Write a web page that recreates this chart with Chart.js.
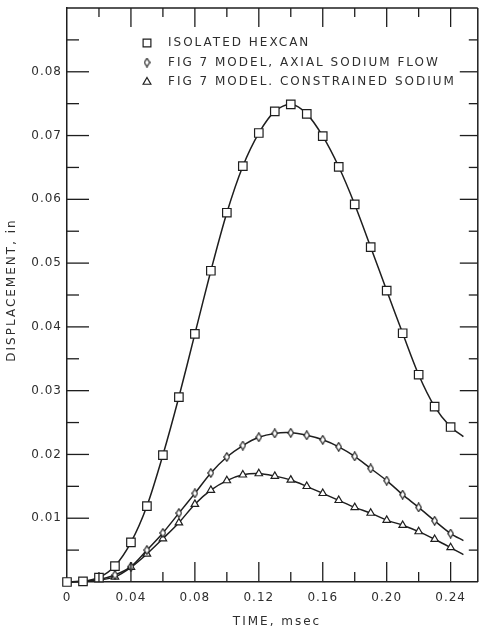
<!DOCTYPE html>
<html>
<head>
<meta charset="utf-8">
<title>Displacement vs time</title>
<script src="https://cdn.jsdelivr.net/npm/chart.js@4/dist/chart.umd.min.js"></script>
<style>
  html, body { margin: 0; padding: 0; background: #fff; overflow: hidden; }
  #wrap { width: 485px; height: 633px; }
</style>
</head>
<body>
<div id="wrap"><canvas id="chart" width="485" height="633"></canvas></div>
<script>
// Time, msec. The last entry is only where the drawn curve ends (no marker there).
const timeMs = [0, 0.01, 0.02, 0.03, 0.04, 0.05, 0.06, 0.07, 0.08, 0.09, 0.10, 0.11, 0.12,
  0.13, 0.14, 0.15, 0.16, 0.17, 0.18, 0.19, 0.20, 0.21, 0.22, 0.23, 0.24, 0.248];

// Displacement, in
const isolatedHexcan = [0, 0.0001, 0.0007, 0.0025, 0.0062, 0.0119, 0.0199, 0.0290, 0.0389,
  0.0488, 0.0579, 0.0652, 0.0704, 0.0738, 0.0749, 0.0734, 0.0699, 0.0651, 0.0592, 0.0525,
  0.0457, 0.0390, 0.0325, 0.0275, 0.0243, 0.0228];
const axialSodiumFlow = [0, 0.0001, 0.0004, 0.0011, 0.0024, 0.0050, 0.0077, 0.0108, 0.0139,
  0.0171, 0.0196, 0.0214, 0.0227, 0.0233, 0.0234, 0.0230, 0.0223, 0.0212, 0.0197, 0.0178,
  0.0159, 0.0137, 0.0117, 0.0096, 0.0076, 0.0065];
const constrainedSodium = [0, 0.0001, 0.0003, 0.0008, 0.0023, 0.0044, 0.0068, 0.0093, 0.0122,
  0.0144, 0.0159, 0.0168, 0.0170, 0.0166, 0.0160, 0.0150, 0.0139, 0.0128, 0.0117, 0.0108,
  0.0097, 0.0089, 0.0079, 0.0067, 0.0054, 0.0043];

const xTickValues = [0, 0.04, 0.08, 0.12, 0.16, 0.20, 0.24];
const xTickLabels = ["0", "0.04", "0.08", "0.12", "0.16", "0.20", "0.24"];
const yTickValues = [0.01, 0.02, 0.03, 0.04, 0.05, 0.06, 0.07, 0.08];
const yTickLabels = ["0.01", "0.02", "0.03", "0.04", "0.05", "0.06", "0.07", "0.08"];

const seriesLabels = ["ISOLATED HEXCAN", "FIG 7 MODEL, AXIAL SODIUM FLOW", "FIG 7 MODEL. CONSTRAINED SODIUM"];
const xTitle = "TIME, msec";
const yTitle = "DISPLACEMENT, in";

const ink = "#1e1e1e";
const textInk = "#2e2e2e";
const fontFamily = "'DejaVu Sans', sans-serif";

// narrow open diamond used as point style
const diamond = document.createElement("canvas");
diamond.width = 7;
diamond.height = 10;
(function () {
  const c = diamond.getContext("2d");
  c.beginPath();
  c.moveTo(3.5, 0.8);
  c.lineTo(6.2, 5);
  c.lineTo(3.5, 9.2);
  c.lineTo(0.8, 5);
  c.closePath();
  c.fillStyle = "#fff";
  c.fill();
  c.strokeStyle = "#1e1e1e";
  c.lineWidth = 1.2;
  c.stroke();
})();

function points(values) {
  return values.map((v, i) => ({ x: timeMs[i], y: v }));
}

// markers every 0.01 msec; none on the curve's end point
function markerRadius(size, firstIndex) {
  return ctx => (ctx.dataIndex < firstIndex || ctx.dataIndex >= timeMs.length - 1) ? 0 : size;
}

const seriesStyles = [
  { pointStyle: "rect", radius: 6 },
  { pointStyle: diamond, radius: 5 },
  { pointStyle: "triangle", radius: 4.3 }
];

function line(ctx, x1, y1, x2, y2) {
  ctx.beginPath();
  ctx.moveTo(x1, y1);
  ctx.lineTo(x2, y2);
  ctx.stroke();
}

// frame (top/right) with inward ticks on all four sides, legend and axis titles
const frameAndText = {
  id: "frameAndText",
  beforeDraw(chart) {
    chart.ctx.letterSpacing = "1px";
  },
  afterDraw(chart) {
    const ctx = chart.ctx;
    const a = chart.chartArea;
    const xs = chart.scales.x;
    const ys = chart.scales.y;
    ctx.save();
    ctx.strokeStyle = ink;
    ctx.lineWidth = 1.5;
    line(ctx, a.left, a.top, a.right, a.top);
    line(ctx, a.right, a.top, a.right, a.bottom);
    ctx.lineWidth = 1.3;
    for (let k = 1; k <= 12; k++) {
      const px = xs.getPixelForValue(k * 0.02);
      const major = k % 2 === 0;
      line(ctx, px, a.bottom, px, a.bottom - (major ? 20 : 10));
      line(ctx, px, a.top, px, a.top + (major ? 19 : 9));
    }
    for (let k = 1; k <= 17; k++) {
      const py = ys.getPixelForValue(k * 0.005);
      const major = k % 2 === 0;
      line(ctx, a.left, py, a.left + (major ? 22 : 12), py);
      line(ctx, a.right, py, a.right - (major ? 18 : 9), py);
    }

    ctx.letterSpacing = "2px";
    ctx.font = "12px " + fontFamily;
    ctx.textBaseline = "middle";

    // legend
    const rowY = [43, 62.5, 82];
    seriesLabels.forEach((label, i) => {
      ctx.strokeStyle = "#1e1e1e";
      ctx.fillStyle = "#fff";
      ctx.lineWidth = 1.2;
      Chart.helpers.drawPoint(ctx, { pointStyle: seriesStyles[i].pointStyle, radius: i === 0 ? 5.5 : 4.5, rotation: 0, borderWidth: 1.2 }, 147, rowY[i]);
      ctx.fillStyle = textInk;
      ctx.textAlign = "left";
      ctx.fillText(label, 168, rowY[i]);
    });

    // axis titles
    ctx.fillStyle = textInk;
    ctx.textAlign = "center";
    ctx.fillText(xTitle, 277, 622);
    ctx.translate(12, 290);
    ctx.rotate(-Math.PI / 2);
    ctx.fillText(yTitle, 0, 0);
    ctx.restore();
  }
};

const datasets = [isolatedHexcan, axialSodiumFlow, constrainedSodium].map((values, i) => ({
  label: seriesLabels[i],
  data: points(values),
  borderColor: ink,
  borderWidth: 1.5,
  backgroundColor: "#fff",
  pointBackgroundColor: "#fff",
  pointBorderColor: "#1e1e1e",
  pointBorderWidth: 1.2,
  pointStyle: seriesStyles[i].pointStyle,
  pointRadius: markerRadius(seriesStyles[i].radius, i === 0 ? 0 : 3),
  tension: 0.3,
  fill: false,
  clip: false
}));

new Chart(document.getElementById("chart"), {
  type: "line",
  data: { datasets: datasets },
  options: {
    responsive: false,
    animation: false,
    events: [],
    layout: { padding: { top: 8, right: 0, left: 0, bottom: 0 } },
    plugins: { legend: { display: false }, tooltip: { enabled: false } },
    scales: {
      x: {
        type: "linear",
        min: 0,
        max: 0.257,
        grid: { display: false, drawTicks: false },
        border: { display: true, color: ink, width: 1.5 },
        afterBuildTicks: scale => { scale.ticks = xTickValues.map(v => ({ value: v })); },
        afterFit: scale => {
          scale.height = 51;
          scale.paddingLeft = 0;
          scale.paddingRight = 0;
        },
        ticks: {
          autoSkip: false,
          maxRotation: 0,
          padding: 9,
          color: textInk,
          font: { family: fontFamily, size: 12 },
          callback: (value, index) => xTickLabels[index]
        }
      },
      y: {
        type: "linear",
        min: 0,
        max: 0.09,
        grid: { display: false, drawTicks: false },
        border: { display: true, color: ink, width: 1.5 },
        afterBuildTicks: scale => { scale.ticks = yTickValues.map(v => ({ value: v })); },
        afterFit: scale => {
          scale.width = 67;
          scale.paddingTop = 0;
          scale.paddingBottom = 0;
        },
        ticks: {
          autoSkip: false,
          padding: 5,
          color: textInk,
          font: { family: fontFamily, size: 12 },
          callback: (value, index) => yTickLabels[index]
        }
      }
    }
  },
  plugins: [frameAndText]
});
</script>
</body>
</html>
